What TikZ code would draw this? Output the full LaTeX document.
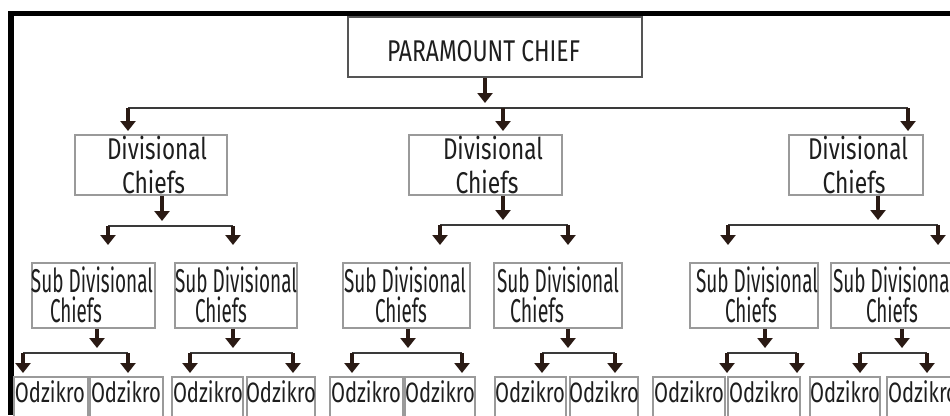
\documentclass[tikz,border=0pt]{standalone}
\usepackage{fontspec}
\usepackage{graphicx}
\setmainfont{Fira Sans}
\usetikzlibrary{arrows.meta}
\definecolor{ac}{HTML}{2A1A14}
\definecolor{lc}{HTML}{3A3A3A}
\definecolor{bc}{HTML}{9A9A9A}
\definecolor{pcc}{HTML}{555555}
\definecolor{tc}{HTML}{1E1E1E}
\newcommand\fw[2]{\resizebox{#1}{\height}{#2}}
\newcommand\bx[6][bx]{\node[#1,minimum width={(#5-#3)*1pt},minimum height={(#6-#4)*1pt}] (#2) at ({(#3+#5)/2},{(#4+#6)/2}) {};}
\newcommand\tx[5]{\node[anchor=base,inner sep=0pt,text=tc] (#1) at ({#2},{#3}) {\fontsize{#4}{#4}\selectfont #5};}
% fork: parent, jx, bary, xl, xr, endy
\newcommand\fork[6]{%
  \coordinate (#1-j) at (#2,#3); \coordinate (#1-l) at (#4,#3); \coordinate (#1-r) at (#5,#3);
  \coordinate (#1-le) at (#4,#6); \coordinate (#1-re) at (#5,#6);
  \draw[arr] (#1.south -| #1-j) -- (#2,{#3-5});
  \draw[bar] (#1-l) -- (#1-r);
  \draw[arr] (#1-l) -- (#1-le);
  \draw[arr] (#1-r) -- (#1-re);}
\begin{document}
\begin{tikzpicture}[x=1pt,y=-1pt,
  bx/.style={draw=bc,line width=1.1pt,inner sep=0pt},
  pbx/.style={draw=pcc,line width=1.6pt,inner sep=0pt},
  arr/.style={draw=ac,line width=4.6pt,-{Triangle[width=15pt,length=10pt]}},
  bar/.style={draw=lc,line width=2.4pt}]
\useasboundingbox (0,0) rectangle (950,415);
\fill[white] (0,0) rectangle (950,415);
\clip (0,0) rectangle (950,415);
% paramount
\bx[pbx]{pc}{348}{17}{642}{77}
\tx{pct}{483.5}{61}{30}{\fw{193pt}{PARAMOUNT CHIEF}}
% frame
\fill[black] (8,11) rectangle (950,16);
\fill[black] (8,11) rectangle (14,415);
% divisional
\bx{d1}{75}{135}{227}{195}
\bx{d2}{409}{135}{562}{195}
\bx{d3}{789}{135}{923}{195}
\tx{d1a}{157}{159}{30}{\fw{100pt}{Divisional}}
\tx{d1b}{153.5}{193}{30}{\fw{63pt}{Chiefs}}
\tx{d2a}{493}{159}{30}{\fw{100pt}{Divisional}}
\tx{d2b}{487}{193}{30}{\fw{63pt}{Chiefs}}
\tx{d3a}{858}{159}{30}{\fw{100pt}{Divisional}}
\tx{d3b}{854}{193}{30}{\fw{63pt}{Chiefs}}
% sub divisional
\bx{s1}{32}{263}{155}{328}
\bx{s2}{175}{263}{297}{328}
\bx{s3}{343}{263}{470}{328}
\bx{s4}{494}{263}{622}{328}
\bx{s5}{690}{263}{818}{328}
\bx{s6}{831}{263}{960}{328}
\tx{s1a}{92}{292}{33}{\fw{122pt}{Sub Divisional}}
\tx{s1b}{76}{322}{33}{\fw{52pt}{Chiefs}}
\tx{s2a}{236}{292}{33}{\fw{122pt}{Sub Divisional}}
\tx{s2b}{221}{322}{33}{\fw{52pt}{Chiefs}}
\tx{s3a}{405}{292}{33}{\fw{122pt}{Sub Divisional}}
\tx{s3b}{401}{322}{33}{\fw{52pt}{Chiefs}}
\tx{s4a}{558}{292}{33}{\fw{122pt}{Sub Divisional}}
\tx{s4b}{537}{322}{33}{\fw{54pt}{Chiefs}}
\tx{s5a}{757}{292}{33}{\fw{122pt}{Sub Divisional}}
\tx{s5b}{751}{322}{33}{\fw{52pt}{Chiefs}}
\tx{s6a}{894}{292}{33}{\fw{122pt}{Sub Divisional}}
\tx{s6b}{892}{322}{33}{\fw{52pt}{Chiefs}}
% odzikro
\foreach \n/\a/\b/\c in {1/14/88/50,2/90/163/126,3/172/243/208,4/247/315/281,5/330/403/366,6/405/475/440,7/495/566/530,8/570/638/604,9/653/725/689,10/728/800/764,11/810/880/845,12/887/960/923}{
  \bx{o\n}{\a}{377}{\b}{440}
  \tx{o\n t}{\c}{402}{28}{\fw{70pt}{Odzikro}}
}
% connectors: top level
\coordinate (pc-j) at (485,108);
\coordinate (pc-l) at (128,108);
\coordinate (pc-m) at (503,108);
\coordinate (pc-r) at (908,108);
\coordinate (d1-in) at (128,131);
\coordinate (d2-in) at (503,131);
\coordinate (d3-in) at (908,131);
\draw[arr] (pc.south -| pc-j) -- (485,103);
\draw[bar] (pc-l) -- (pc-r);
\draw[arr] (pc-l) -- (d1-in);
\draw[arr] (pc-m) -- (d2-in);
\draw[arr] (pc-r) -- (d3-in);
% divisional forks
\fork{d1}{162}{226}{108}{233}{245}
\fork{d2}{503}{225}{440}{568}{245}
\fork{d3}{878}{225}{728}{938}{245}
% sub divisional forks
\fork{s1}{97}{353}{23}{128}{373}
\fork{s2}{233}{353}{190}{293}{373}
\fork{s3}{408}{353}{352}{462}{373}
\fork{s4}{568}{353}{542}{615}{373}
\fork{s5}{765}{353}{727}{797}{373}
\fork{s6}{902}{353}{860}{927}{373}
\end{tikzpicture}
\end{document}
